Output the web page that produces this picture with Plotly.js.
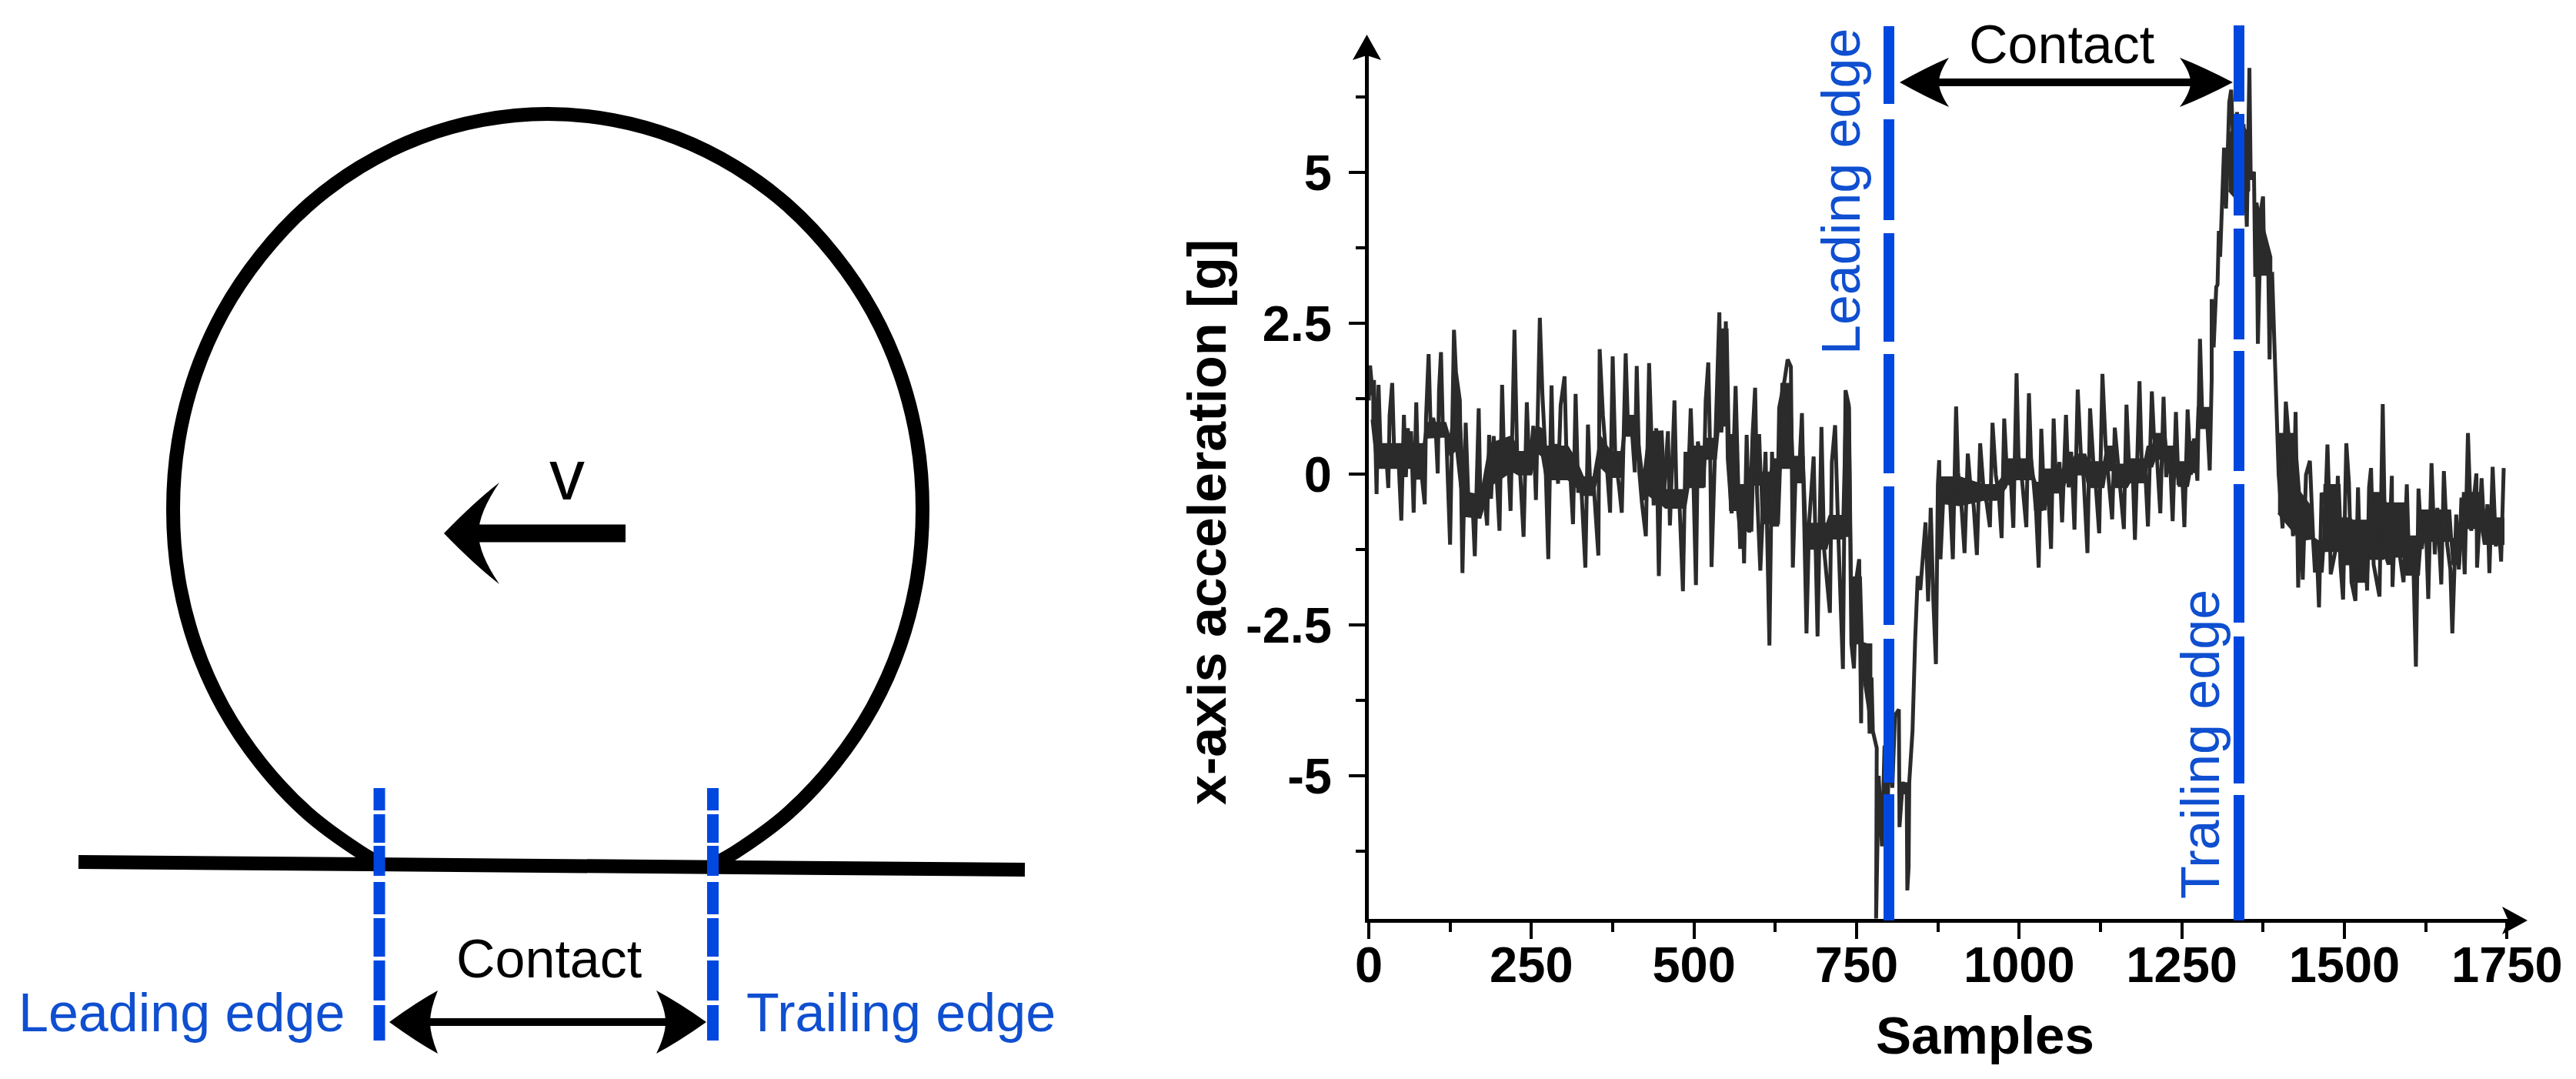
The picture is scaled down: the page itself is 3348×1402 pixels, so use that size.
<!DOCTYPE html>
<html><head><meta charset="utf-8">
<script src="https://cdn.plot.ly/plotly-3.0.1.min.js"></script>
<style>html,body{margin:0;padding:0;background:#fff}</style></head>
<body><div id="chart" style="width:3348px;height:1402px"></div>
<script>
// ---- chart data ----
const samples = [0,2,6,8,12,15,18,21,24,28,30,32,36,39,42,45,50,54,57,60,63,65,69,73,76,79,82,86,88,92,95,99,103,106,108,111,114,119,125,131,134,140,144,149,153,156,159,163,169,172,176,182,185,188,192,196,201,205,208,213,218,221,224,228,233,238,243,247,253,257,263,267,271,276,281,284,288,291,295,301,304,308,314,318,322,326,333,337,341,345,353,355,360,365,371,375,379,385,389,395,399,403,409,412,416,420,426,431,434,438,442,446,450,454,460,463,
470,473,478,483,487,491,495,499,503,506,511,515,518,522,525,527,533,539,542,546,549,552,558,564,568,571,574,577,581,585,590,594,597,602,610,612,616,620,624,628,631,639,644,649,652,657,661,666,669,673,677,684,690,696,700,709,712,717,722,729,733,738,742,746,750,754,757,758,767,770,773,775,781,780,784,789,793,797,800,805,809,815,816,821,824,827,828,830,831,836,840,844,848,852,856,860,864,868,872,875,877,
879,884,890,894,898,903,906,911,916,921,925,930,935,940,945,950,955,959,964,969,973,977,982,986,991,996,999,1004,1011,1015,1019,1024,1030,1034,1039,1043,1049,1053,1057,1062,1066,1072,1076,1080,1085,1090,1095,1099,1105,1109,1114,1118,1123,1128,1133,1138,1143,1147,1152,1156,1161,1165,1170,1174,1178,1185,1189,1193,1198,1204,1207,1212,1217,1222,1226,1231,1236,1241,1245,1250,1254,1259,1264,1269,1274,1278,1282,1288,1293,
1296,1296,1299,1303,1305,1307,1309,1312,1315,1318,1323,1326,1330,1335,1340,1345,1350,1354,1356,1361,1363,1365,1367,1372,1375,1377,1379,1383,1385,1387,1389,1392,1394,
1396,1399,1405,1410,1414,1419,1421,1425,1429,1432,1436,1441,1447,1452,1457,1461,1465,1471,1474,1477,1479,1486,1490,1494,1498,1503,1507,1511,1517,1521,1525,1530,1535,1538,1541,1545,1554,1559,1563,1568,1573,1574,1579,1586,1591,1596,1600,1605,1610,1614,1619,1625,1629,1634,1639,1643,1649,1653,1658,1663,1666,1672,1676,1680,1685,1690,1695,1700,1703,1704,1711,1716,1720,1723,1728,1733,1737,1741,1745];
const acceleration = [1.22,1.80,1.31,1.56,-.33,1.48,.46,.12,.46,.12,-.23,.97,1.51,.37,.16,.42,-.77,.98,-.05,.76,.25,.71,-.64,1.19,-.09,.42,-.09,-.50,.93,1.99,.80,.93,.71,.01,1.39,2.02,.71,.69,-1.17,2.39,1.69,1.22,-1.64,.85,-.39,-.65,-.35,-1.36,1.09,-.65,-.18,-.85,.65,-.41,.63,.08,-.94,1.48,.25,.59,-.61,.97,2.39,.37,-.03,-1.04,1.19,.03,.80,-.43,2.59,1.31,.46,-1.41,1.47,-.09,.50,-.16,1.14,1.62,.29,.37,-.83,1.33,-.31,-.05,-1.55,.82,-.35,-.05,-1.35,2.07,.97,.29,-.64,1.95,.29,-.22,-.64,2.00,.63,.97,.03,1.79,.03,-.48,-1.03,1.84,.71,-.52,.76,-1.69,.54,-.31,.71,-.85,
1.22,-.26,-.56,-1.94,.37,-.18,1.09,-.05,-1.84,.54,.08,-.22,1.22,1.85,.29,-1.54,.59,2.68,.69,1.39,2.53,.25,-.65,1.46,-.18,-1.24,-.18,-1.48,.65,-.97,.63,1.43,-.31,-1.60,.37,-.82,-2.84,.37,-.84,-.84,1.10,1.54,1.90,1.78,-1.55,.29,-.14,1.01,-.73,-2.64,-.82,.29,-2.69,.78,-1.24,-2.30,.20,.81,-1.03,-3.23,1.39,1.14,-2.81,-3.22,-1.71,-1.41,-4.13,-2.81,-2.84,-4.30,-3.37,-4.26,-4.54,-7.40,-5.00,-6.17,-4.50,-6.10,-4.30,-5.20,-4.00,-3.90,-5.85,-5.10,-5.30,-5.11,-6.90,-6.52,-5.11,-4.26,-2.77,-1.69,-1.92,-1.28,-.80,-2.11,-.56,-2.09,-3.15,-.18,.23,
-1.41,-.22,-.07,-.48,-1.41,1.12,.03,-.48,-1.31,.34,-.18,-.52,-1.34,.51,-.22,-.48,-.88,.85,-.01,-.39,-1.06,.92,-.18,.16,-.89,1.67,.29,-.05,-.88,1.34,.03,-.14,-1.55,.75,-.60,.03,-1.24,.92,-.26,.20,-.80,.98,-.22,.37,-.92,1.40,.29,-.05,-1.31,1.09,.20,-.22,-.98,1.66,.46,-.22,-.75,.77,.20,-.18,-.91,1.15,-.14,.25,-1.09,1.54,-.05,.25,-.87,1.37,.67,.25,-.65,1.28,-.05,.46,-.78,1.03,-.18,.20,-.88,1.07,-.01,.59,-.11,2.24,.76,1.10,.06,
1.57,2.90,2.10,3.10,3.14,4.03,3.60,4.60,5.41,4.40,6.16,6.37,5.20,6.00,4.80,5.80,4.10,6.73,4.88,5.01,3.27,4.50,2.16,4.40,4.60,3.30,3.35,3.40,1.90,3.30,3.31,2.30,1.70,
1.27,-.01,-.90,1.20,.67,-.69,-1.03,1.03,-1.88,-.39,-1.75,-.01,.22,-1.07,-1.11,-2.21,-.31,-.48,.49,-.56,-1.66,-1.28,-.03,-1.50,-2.08,.51,-.14,-1.79,-2.10,-.22,-1.79,-.77,-1.93,-.22,.10,-1.50,-2.03,1.16,-1.33,-1.50,-.03,-1.87,-.48,-1.41,-1.79,-.17,-1.67,-1.03,-3.19,-.24,-1.24,-.73,-2.07,.18,-1.33,-.56,-1.83,.05,-1.16,-1.58,-2.64,-.67,-1.58,-.39,-1.66,.68,-.94,-.31,.01,-1.55,-.07,-1.16,-.50,-1.64,.12,-1.20,-.73,-1.45,.10];

// dense core of the signal (upper and lower edge of the dark band), one list per stretch
const coreSamples = [
 [4,12,84,88,118,125,134,140,148,172,186,220,230,250,258,266,272,306,318,330,345,356,372,388,394,408,415,422,430,452,456,487,492,515,518,534,539,552,555,566,569,590,592,602,604,617,621,631,634,649,653,669,673,704,708,728,732,740,743,757,760,773],
 [878,909,945,965,980,984,1020,1024,1036,1040,1067,1071,1083,1087,1102,1106,1130,1134,1146,1148,1166,1170,1193,1197,1205,1209,1225,1227,1241,1245,1260,1264,1272,1274,1292],
 [1322,1338,1354],
 [1366,1388],
 [1398,1425,1432,1450,1453,1467,1469,1493,1495,1509,1513,1536,1538,1560,1564,1592,1595,1615,1619,1663,1666,1678,1682,1710,1714,1745]];
const coreHigh = [
 [1.5,.5,.5,.85,.85,.6,1.6,1.2,-.3,-.35,.5,.63,.37,.37,.8,.75,.46,.46,.25,-.05,-.05,.63,.37,.37,.97,.97,.63,-.03,.7,.71,-.26,-.26,.46,.46,.59,.59,2.4,2.4,.65,.65,-.18,-.18,.65,.65,.03,.03,.25,.25,1.5,1.5,.29,.29,-.82,-.82,-.69,-.69,1.1,1.1,-1.71,-1.71,-2.82,-2.82],
 [-.05,-.05,-.18,-.18,.03,.25,.25,-.14,-.14,.08,.08,.25,.25,.33,.33,.2,.2,.46,.46,.16,.16,.25,.25,.46,.46,.67,.67,.46,.46,.2,.2,.54,.54,1.1,1.1],
 [5.6,5.9,5.6],
 [4.5,3.6],
 [.67,.67,-.3,-.56,-1.11,-1.11,-.18,-.18,-.73,-.73,-.77,-.77,-.31,-.31,-.48,-.48,-1.03,-1.03,-.6,-.6,-1.07,-1.07,-.31,-.31,-.73,-.73]];
const coreLow = [
 [.9,.1,.1,.6,.62,.3,.4,-.2,-.7,-.73,-.2,.05,-.01,-.01,.37,.3,-.09,-.09,-.2,-.35,-.35,.12,-.05,-.05,.63,.63,.08,-.43,-.35,-.52,-.56,-.56,-.22,-.22,.25,.25,.8,.8,-.6,-.6,-.94,-.94,-.18,-.18,-.82,-.82,-.82,-.82,.1,.1,-.14,-.14,-1.24,-1.24,-1.07,-1.07,-1.03,-1.03,-2.81,-2.81,-3.37,-4.3],
 [-.48,-.52,-.43,-.43,-.22,-.09,-.09,-.6,-.6,-.31,-.31,-.14,-.14,-.01,-.01,-.22,-.22,.06,.06,-.22,-.22,-.14,-.14,.12,.12,.25,.25,.03,.03,-.2,-.2,.03,.03,.76,.76],
 [4.7,4.5,4.7],
 [3.3,3.3],
 [-.65,-1.0,-1.1,-1.07,-1.62,-1.62,-1.28,-1.28,-1.5,-1.5,-1.79,-1.79,-1.41,-1.41,-1.37,-1.37,-1.67,-1.67,-1.11,-1.11,-1.5,-1.5,-.9,-.9,-1.16,-1.16]];

const xTickVals = [0,250,500,750,1000,1250,1500,1750];
const xTickText = ['0','250','500','750','1000','1250','1500','1750'];
const xMinorVals = [125,375,625,875,1125,1375,1625];
const yTickVals = [5,2.5,0,-2.5,-5];
const yTickText = ['5','2.5','0','-2.5','-5'];
const yMinorVals = [6.25,3.75,1.25,-1.25,-3.75,-6.25];
const xTitle = 'Samples', yTitle = 'x-axis acceleration [g]';

// ---- schematic outlines, in page units of the overlay axes ----
const wheelX = [494,468,399,339,290,254,232,225,232,254,290,339,399,468,545,627,712,797,879,956,1025,1085,1134,1170,1192,1199,1192,1170,1134,1085,1025,956,933];
const wheelY = [1122,1107,1056,992,919,838,751,662,573,486,405,332,268,217,179,156,148,156,179,217,268,332,405,486,573,662,751,838,919,992,1056,1107,1120];
const groundX = [102,1332], groundY = [1120,1130];
const leftEdgeY = [1024,1053,null,1058,1095,null,1099,1138,null,1146,1188,null,1193,1243,null,1248,1300,null,1306,1352];
const chartLeadY = [34,135,null,155,286,null,303,444,null,460,615,null,632,812,null,830,1017,null,1032,1196];
const chartTrailY = [33,132,null,148,280,null,297,441,null,456,612,null,629,809,null,827,1018,null,1033,1196];

const FONT = '"Liberation Sans", Arial, sans-serif';
const BLUE = '#0047e0', TEXTBLUE = '#0f4fd0', INK = '#2b2b2b';
const sameX = (v, ys) => ys.map(y => y === null ? null : v);

function over(x, y, color, width, extra) {
  return Object.assign({x, y, xaxis:'x2', yaxis:'y2', mode:'lines', hoverinfo:'skip', showlegend:false,
    line:{color, width}}, extra||{});
}
const coreX = [], coreY = [];
coreSamples.forEach((xs, i) => {
  coreX.push(...xs, ...xs.slice().reverse(), null);
  coreY.push(...coreHigh[i], ...coreLow[i].slice().reverse(), null);
});
const traces = [
  {x:coreX, y:coreY, mode:'lines', fill:'toself', fillcolor:INK, line:{color:INK, width:2}, showlegend:false, hoverinfo:'skip'},
  {x:samples, y:acceleration, mode:'lines', line:{color:INK, width:5}, showlegend:false, hoverinfo:'skip'},
  over(wheelX, wheelY, '#000', 18, {line:{color:'#000', width:18, shape:'spline', smoothing:1}}),
  over(groundX, groundY, '#000', 18),
  over([813,615],[693,693],'#000',23),
  over([530,895],[1328,1328],'#000',10),
  over([2500,2870],[107,107],'#000',10),
  over(sameX(493,leftEdgeY), leftEdgeY, BLUE, 15),
  over(sameX(926.5,leftEdgeY), leftEdgeY, BLUE, 15),
  over(sameX(2455,chartLeadY), chartLeadY, BLUE, 14),
  over(sameX(2910,chartTrailY), chartTrailY, BLUE, 14)
];

// concave arrow head: tip, barb and notch positions
function headH(tip, barb, notch, y, half) {
  return {type:'path', xref:'x2', yref:'y2', fillcolor:'#000', line:{width:0}, layer:'above',
    path:`M ${tip} ${y} Q ${(tip+barb)/2+ (barb-tip)*0.05} ${y-half*0.62} ${barb} ${y-half} Q ${notch} ${y-half*0.4} ${notch} ${y} Q ${notch} ${y+half*0.4} ${barb} ${y+half} Q ${(tip+barb)/2+(barb-tip)*0.05} ${y+half*0.62} ${tip} ${y} Z`};
}
const shapes = [
  headH(577,649,622,693,66),
  headH(506,569,559,1328,41),
  headH(918,853,865,1328,41),
  headH(2469,2533,2520,107,32),
  headH(2902,2833,2847,107,32),
  {type:'path', xref:'x2', yref:'y2', fillcolor:'#000', line:{width:0}, layer:'above',
    path:'M 1776.5 45 L 1795 78 L 1776.5 72 L 1758 78 Z'},
  {type:'path', xref:'x2', yref:'y2', fillcolor:'#000', line:{width:0}, layer:'above',
    path:'M 3285 1196 L 3252 1178 L 3260 1196 L 3252 1214 Z'}
];

function label(text, x, y, size, color, opts) {
  return Object.assign({text, x, y, xref:'x2', yref:'y2', showarrow:false, xanchor:'center', yanchor:'middle',
    font:{family:FONT, size, color}}, opts||{});
}
const annotations = [
  label('v', 737, 617, 92, '#000'),
  label('Contact', 713, 1246, 70, '#000'),
  label('Leading edge', 236, 1316, 70, TEXTBLUE),
  label('Trailing edge', 1171, 1316, 70, TEXTBLUE),
  label('Contact', 2679, 58, 70, '#000'),
  label('Leading edge', 2393, 249, 70, TEXTBLUE, {textangle:-90}),
  label('Trailing edge', 2860, 967, 70, TEXTBLUE, {textangle:-90}),
  label(xTitle, 2580, 1345, 69, '#000', {font:{family:FONT, size:69, color:'#000', weight:700}}),
  label(yTitle, 1569, 679, 70, '#000', {textangle:-90, font:{family:FONT, size:70, color:'#000', weight:700}})
];

const W = 3348, H = 1402;
const pxPerSample = 0.8453, pxPerG = 78.4, zeroY = 616, leftPx = 1779, rightPx = 3271, topPx = 60, bottomPx = 1193.5;
const layout = {
  width:W, height:H, margin:{l:0,r:0,t:0,b:0}, paper_bgcolor:'#fff', plot_bgcolor:'rgba(0,0,0,0)', showlegend:false,
  xaxis:{domain:[leftPx/W, rightPx/W], range:[0,(rightPx-leftPx)/pxPerSample], anchor:'y', showgrid:false, zeroline:false,
    showline:true, linecolor:'#000', linewidth:5, ticks:'outside', ticklen:21, tickwidth:4, tickcolor:'#000',
    tickmode:'array', tickvals:xTickVals, ticktext:xTickText, ticklabelstandoff:-22,
    tickfont:{family:FONT, size:65, color:'#000', weight:700},
    minor:{tickmode:'array', tickvals:xMinorVals, ticks:'outside', ticklen:12, tickwidth:4, tickcolor:'#000', showgrid:false}},
  yaxis:{domain:[1-bottomPx/H, 1-topPx/H], range:[(zeroY-bottomPx)/pxPerG,(zeroY-topPx)/pxPerG], anchor:'x', showgrid:false, zeroline:false,
    showline:true, linecolor:'#000', linewidth:5, ticks:'outside', ticklen:21, tickwidth:4, tickcolor:'#000',
    tickmode:'array', tickvals:yTickVals, ticktext:yTickText, ticklabelstandoff:9,
    tickfont:{family:FONT, size:65, color:'#000', weight:700},
    minor:{tickmode:'array', tickvals:yMinorVals, ticks:'outside', ticklen:12, tickwidth:4, tickcolor:'#000', showgrid:false}},
  xaxis2:{domain:[0,1], range:[0,W], anchor:'y2', visible:false, fixedrange:true},
  yaxis2:{domain:[0,1], range:[H,0], anchor:'x2', visible:false, fixedrange:true},
  shapes, annotations
};
Plotly.newPlot('chart', traces, layout, {displayModeBar:false, staticPlot:true});
</script></body></html>
